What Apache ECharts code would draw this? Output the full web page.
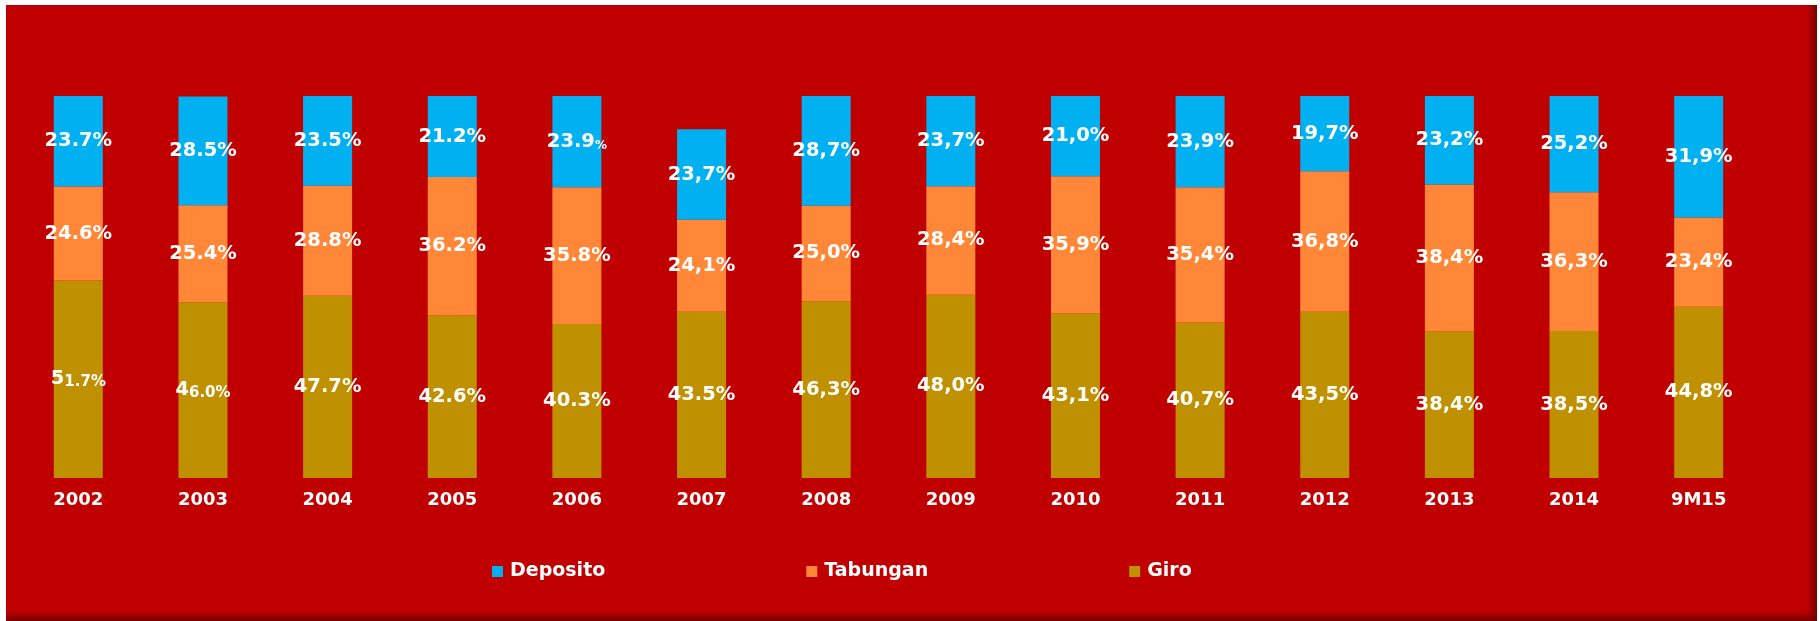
<!DOCTYPE html>
<html>
<head>
<meta charset="utf-8">
<script src="https://cdn.jsdelivr.net/npm/echarts@6/dist/echarts.min.js"></script>
<style>
  html, body { margin: 0; padding: 0; background: #ffffff; width: 1820px; height: 621px; overflow: hidden; }
  #panel {
    position: absolute; left: 6px; top: 5px; width: 1811px; height: 616px;
    background: #C00000;
    box-shadow: inset -5px -5px 6px rgba(60, 0, 0, 0.55);
  }
  #chart { position: absolute; left: 0; top: 0; width: 1820px; height: 621px; }
</style>
</head>
<body>
<div id="panel"></div>
<div id="chart"></div>
<script>
// Funding mix by year (share of third-party funds, %)
const years    = ['2002', '2003', '2004', '2005', '2006', '2007', '2008', '2009', '2010', '2011', '2012', '2013', '2014', '9M15'];
const deposito = [23.7, 28.5, 23.5, 21.2, 23.9, 23.7, 28.7, 23.7, 21.0, 23.9, 19.7, 23.2, 25.2, 31.9];
const tabungan = [24.6, 25.4, 28.8, 36.2, 35.8, 24.1, 25.0, 28.4, 35.9, 35.4, 36.8, 38.4, 36.3, 23.4];
const giro     = [51.7, 46.0, 47.7, 42.6, 40.3, 43.5, 46.3, 48.0, 43.1, 40.7, 43.5, 38.4, 38.5, 44.8];

// Decimal mark used in each label, one character per year
const depositoMarks = '.....,,,,,,,,,';
const tabunganMarks = '.....,,,,,,,,,';
const giroMarks     = '......,,,,,,,,';

// Labels whose tail is set in a smaller type: index -> [characters kept large, tail style]
const smallTails = {
  Giro: { 0: [1, 's'], 1: [1, 's'] },
  Deposito: { 4: [4, 't'] }
};

const colors = { Deposito: '#00B0F0', Tabungan: '#FF8737', Giro: '#BF9000' };
const labelFont = 'DejaVu Sans';

function labelText(name, marks) {
  return function (p) {
    const txt = p.value.toFixed(1).replace('.', marks[p.dataIndex]) + '%';
    const tail = smallTails[name] && smallTails[name][p.dataIndex];
    if (tail) {
      return '{b|' + txt.slice(0, tail[0]) + '}{' + tail[1] + '|' + txt.slice(tail[0]) + '}';
    }
    return '{b|' + txt + '}';
  };
}

function makeSeries(name, values, marks) {
  return {
    name: name,
    type: 'bar',
    stack: 'mix',
    barWidth: 49,
    data: values,
    itemStyle: { color: colors[name] },
    label: {
      show: true,
      position: 'inside',
      formatter: labelText(name, marks),
      rich: {
        b: { color: '#ffffff', fontFamily: labelFont, fontWeight: 'bold', fontSize: 19.5, verticalAlign: 'bottom' },
        s: { color: '#ffffff', fontFamily: labelFont, fontWeight: 'bold', fontSize: 15, verticalAlign: 'bottom' },
        t: { color: '#ffffff', fontFamily: labelFont, fontWeight: 'bold', fontSize: 12, verticalAlign: 'bottom' }
      }
    }
  };
}

const chart = echarts.init(document.getElementById('chart'), null, { renderer: 'canvas' });
chart.setOption({
  animation: false,
  backgroundColor: 'transparent',
  grid: { left: 16, right: 59, top: 96, bottom: 143, containLabel: false },
  legend: {
    data: ['Deposito', 'Tabungan', 'Giro'],
    left: 487,
    top: 557,
    icon: 'rect',
    itemWidth: 11,
    itemHeight: 11,
    itemGap: 201,
    textStyle: { color: '#ffffff', fontFamily: labelFont, fontWeight: 'bold', fontSize: 19, padding: [0, 0, 0, 2] }
  },
  xAxis: {
    type: 'category',
    data: years,
    axisLine: { show: false },
    axisTick: { show: false },
    axisLabel: { color: '#ffffff', fontFamily: labelFont, fontWeight: 'bold', fontSize: 18, margin: 13 }
  },
  yAxis: {
    type: 'value',
    min: 0,
    max: 100,
    show: false,
    splitLine: { show: false }
  },
  series: [
    makeSeries('Giro', giro, giroMarks),
    makeSeries('Tabungan', tabungan, tabunganMarks),
    makeSeries('Deposito', deposito, depositoMarks)
  ]
});
</script>
</body>
</html>
